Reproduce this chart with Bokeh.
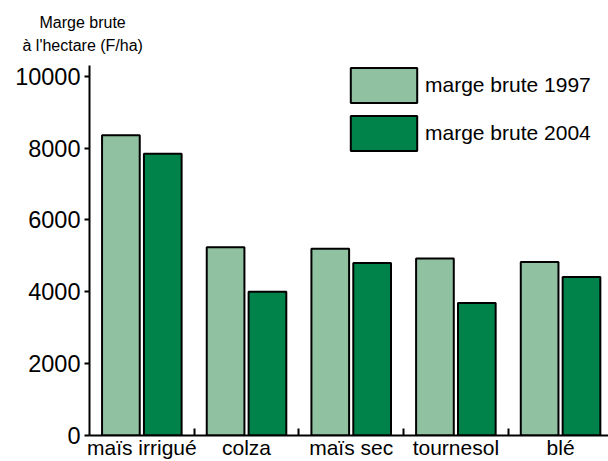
from bokeh.plotting import figure
from bokeh.models import Range1d, FixedTicker, Legend, LegendItem, ColumnDataSource, Title
from bokeh.transform import dodge
from bokeh.embed import file_html
from bokeh.resources import INLINE

categories = ["maïs irrigué", "colza", "maïs sec", "tournesol", "blé"]
marge_1997 = [8360, 5240, 5200, 4930, 4830]
marge_2004 = [7840, 4000, 4800, 3690, 4410]
y_ticks = [0, 2000, 4000, 6000, 8000, 10000]
series_labels = ["marge brute 1997", "marge brute 2004"]
axis_title = ["Marge brute", "à l'hectare (F/ha)"]

FONT = "Liberation Sans"
C1997 = "#90c2a2"
C2004 = "#00834a"

xs = list(range(len(categories)))
src = ColumnDataSource(dict(x=xs, m1997=marge_1997, m2004=marge_2004))

p = figure(width=608, height=461, output_backend="svg", toolbar_location=None,
           x_range=Range1d(-0.5, len(categories) - 0.542), y_range=Range1d(0, 10300),
           min_border_left=89, min_border_right=0, min_border_top=65, min_border_bottom=24)
p.outline_line_color = None
p.xgrid.grid_line_color = None
p.ygrid.grid_line_color = None

r1 = p.vbar(x=dodge("x", -0.2, range=p.x_range), top="m1997", width=0.36, source=src,
            fill_color=C1997, line_color="black", line_width=2)
r2 = p.vbar(x=dodge("x", 0.2, range=p.x_range), top="m2004", width=0.36, source=src,
            fill_color=C2004, line_color="black", line_width=2)

# y axis
p.yaxis.ticker = FixedTicker(ticks=y_ticks)
p.yaxis.major_tick_out = 5
p.yaxis.major_tick_in = 0
p.yaxis.minor_tick_line_color = None
p.yaxis.axis_line_width = 2
p.yaxis.major_tick_line_width = 2
p.yaxis.major_label_text_font = FONT
p.yaxis.major_label_text_font_size = "23.5px"
p.yaxis.major_label_text_color = "black"
p.yaxis.major_label_standoff = 4
p.yaxis.axis_line_color = "black"
p.yaxis.major_tick_line_color = "black"

# x axis
p.xaxis.ticker = FixedTicker(ticks=xs, minor_ticks=[x + 0.5 for x in xs[:-1]])
p.xaxis.major_label_overrides = {i: c for i, c in zip(xs, categories)}
p.xaxis.major_tick_line_color = None
p.xaxis.major_tick_out = 0
p.xaxis.major_tick_in = 0
p.xaxis.minor_tick_in = 7
p.xaxis.minor_tick_out = 0
p.xaxis.minor_tick_line_width = 2
p.xaxis.minor_tick_line_color = "black"
p.xaxis.axis_line_width = 2
p.xaxis.axis_line_color = "black"
p.xaxis.major_label_text_font = FONT
p.xaxis.major_label_text_font_size = "21px"
p.xaxis.major_label_text_color = "black"
p.xaxis.major_label_standoff = 0

legend = Legend(items=[LegendItem(label=series_labels[0], renderers=[r1]),
                       LegendItem(label=series_labels[1], renderers=[r2])],
                location=(253, 280), orientation="vertical",
                glyph_width=83, glyph_height=44, spacing=4, label_standoff=0,
                padding=0, margin=0, border_line_color=None, background_fill_alpha=0,
                label_text_font=FONT, label_text_font_size="21px", label_text_color="black")
p.add_layout(legend)

# two-line y-axis title, placed above the frame (inner line first)
p.add_layout(Title(text=axis_title[1], align="left", offset=-67, standoff=24,
                   text_font=FONT, text_font_size="16px", text_font_style="normal",
                   text_color="black"), "above")
p.add_layout(Title(text=axis_title[0], align="left", offset=-50, standoff=-16,
                   text_font=FONT, text_font_size="16px", text_font_style="normal",
                   text_color="black"), "above")

with open("out.html", "w", encoding="utf-8") as f:
    f.write(file_html(p, INLINE))
